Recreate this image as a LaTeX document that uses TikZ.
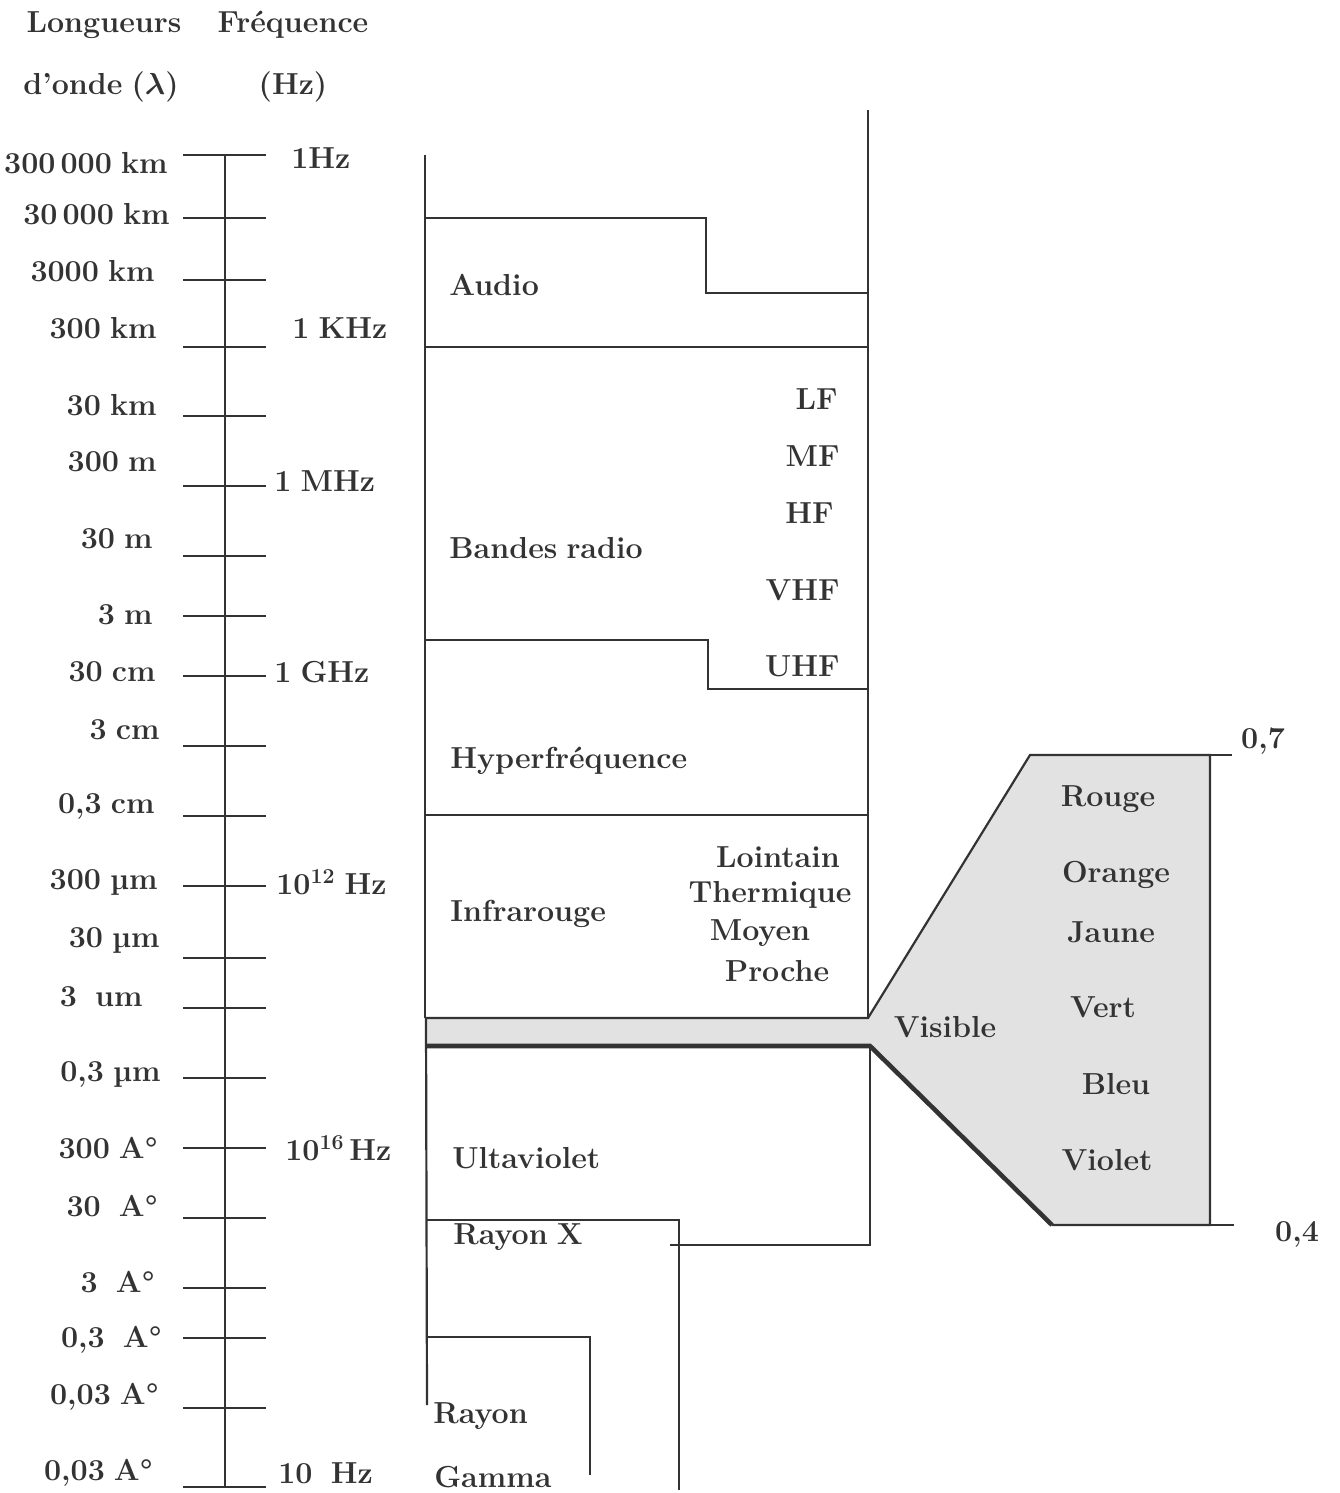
\documentclass[tikz,border=0pt]{standalone}
\usepackage{tikz}

\definecolor{ink}{HTML}{333333}
\definecolor{stipple}{HTML}{E2E2E2}

\newcommand\lblfont{\fontsize{17.3}{20}\selectfont\bfseries\spaceskip=0.3em plus 0.1em\relax}

\tikzset{
  lbl/.style={font=\lblfont, text=ink, inner sep=0pt},
  rule/.style={draw=ink, line width=1.25pt},
  heavy/.style={draw=ink, line width=2.6pt},
}

\begin{document}
\begin{tikzpicture}[x=0.02cm, y=-0.02cm, every node/.style={lbl}]
\useasboundingbox (0,0) rectangle (1339,1493);

% titres
\node (hlong) at (104,25) {Longueurs};
\node (hfreq) at (293,25) {Fréquence};
\node (honde) at (101,87) {d’onde ({\boldmath$\lambda$})};
\node (hhz) at (293,87) {(Hz)};

% echelle
\coordinate (atop) at (225,155);
\coordinate (abot) at (225,1487);
\draw[rule] (atop) -- (abot);

\foreach \ty/\ly/\lx/\lab [count=\i] in {
    155/163/168/300\,000 km, 218/214/170/30\,000 km, 280/271/155/3000 km,
    347/328/157/300 km, 416/405/157/30 km, 486/462/157/300 m,
    556/539/153/30 m, 616/615/153/3 m, 676/672/156/30 cm,
    746/730/160/3 cm, 816/806/155/{0,3 cm}, 886/882/158/300 µm,
    958/940/160/30 µm, 1008/997/143/3~~um, 1078/1074/161/{0,3 µm},
    1148/1148/158/300 A°, 1218/1206/158/30~~A°, 1288/1282/155/3~~A°,
    1338/1340/162/{0,3~~A°}, 1408/1397/159/{0,03 A°}, 1487/1473/153/{0,03 A°}}
{
  \draw[rule] (183,\ty) -- (266,\ty);
  \node[anchor=east] (w\i) at (\lx,\ly) {\lab};
}

\foreach \fy/\fx/\flab [count=\i] in {
    158/291/1Hz, 328/292/1 KHz, 481/274/1 MHz, 672/274/1 GHz,
    882/276/10\textsuperscript{12} Hz, 1148/285/10\textsuperscript{16}\,Hz,
    1473/278/10~~Hz}
  \node[anchor=west] (f\i) at (\fx,\fy) {\flab};

% bandes
\draw[rule] (425,155) -- (425,1018);
\draw[rule] (868,110) -- (868,1018);
\draw[rule] (425,218) -- (706,218) -- (706,293) -- (868,293);
\draw[rule] (425,347) -- (868,347);
\draw[rule] (425,640) -- (708,640) -- (708,689) -- (868,689);
\draw[rule] (425,815) -- (868,815);

% visible
\fill[stipple] (427,1018) -- (868,1018) -- (1030,755) -- (1210,755) -- (1210,1225)
  -- (1052,1225) -- (870,1046) -- (427,1046) -- cycle;
\draw[rule] (425,1018) -- (868,1018) -- (1030,755) -- (1210,755) -- (1210,1225) -- (1052,1225);
\draw[heavy] (427,1046) -- (870,1046) -- (1052,1225);
\draw[rule] (1210,755) -- (1232,755);
\draw[rule] (1210,1225) -- (1234,1225);
\node (v07) at (1263,741) {0,7};
\node (v04) at (1297,1234) {0,4};

\draw[rule] (426,1018) -- (427,1405);
\draw[rule] (870,1046) -- (870,1245) -- (670,1245);
\draw[rule] (427,1220) -- (679,1220) -- (679,1490);
\draw[rule] (427,1337) -- (590,1337) -- (590,1475);

% noms des bandes
\node[anchor=west] (audio) at (449,285) {Audio};
\node[anchor=west] (radio) at (449,548) {Bandes radio};
\node[anchor=west] (hyper) at (450,761) {Hyperfréquence};
\node[anchor=west] (infra) at (450,914) {Infrarouge};
\node[anchor=west] (uv) at (452,1158) {Ultaviolet};
\node[anchor=west] (rx) at (453,1237) {Rayon X};
\node[anchor=west] (rg1) at (433,1416) {Rayon};
\node[anchor=west] (rg2) at (434,1477) {Gamma};

\node[anchor=east] (lf) at (838,399) {LF};
\node[anchor=east] (mf) at (840,456) {MF};
\node[anchor=east] (hf) at (834,513) {HF};
\node[anchor=east] (vhf) at (840,590) {VHF};
\node[anchor=east] (uhf) at (840,666) {UHF};

\node (ir1) at (778,857) {Lointain};
\node (ir2) at (770,895) {Thermique};
\node (ir3) at (760,933) {Moyen};
\node (ir4) at (777,971) {Proche};

\node (vis) at (945,1027) {Visible};
\node (c1) at (1108,799) {Rouge};
\node (c2) at (1116,875) {Orange};
\node (c3) at (1111,932) {Jaune};
\node (c4) at (1103,1007) {Vert};
\node (c5) at (1116,1084) {Bleu};
\node (c6) at (1107,1160) {Violet};

\end{tikzpicture}
\end{document}
